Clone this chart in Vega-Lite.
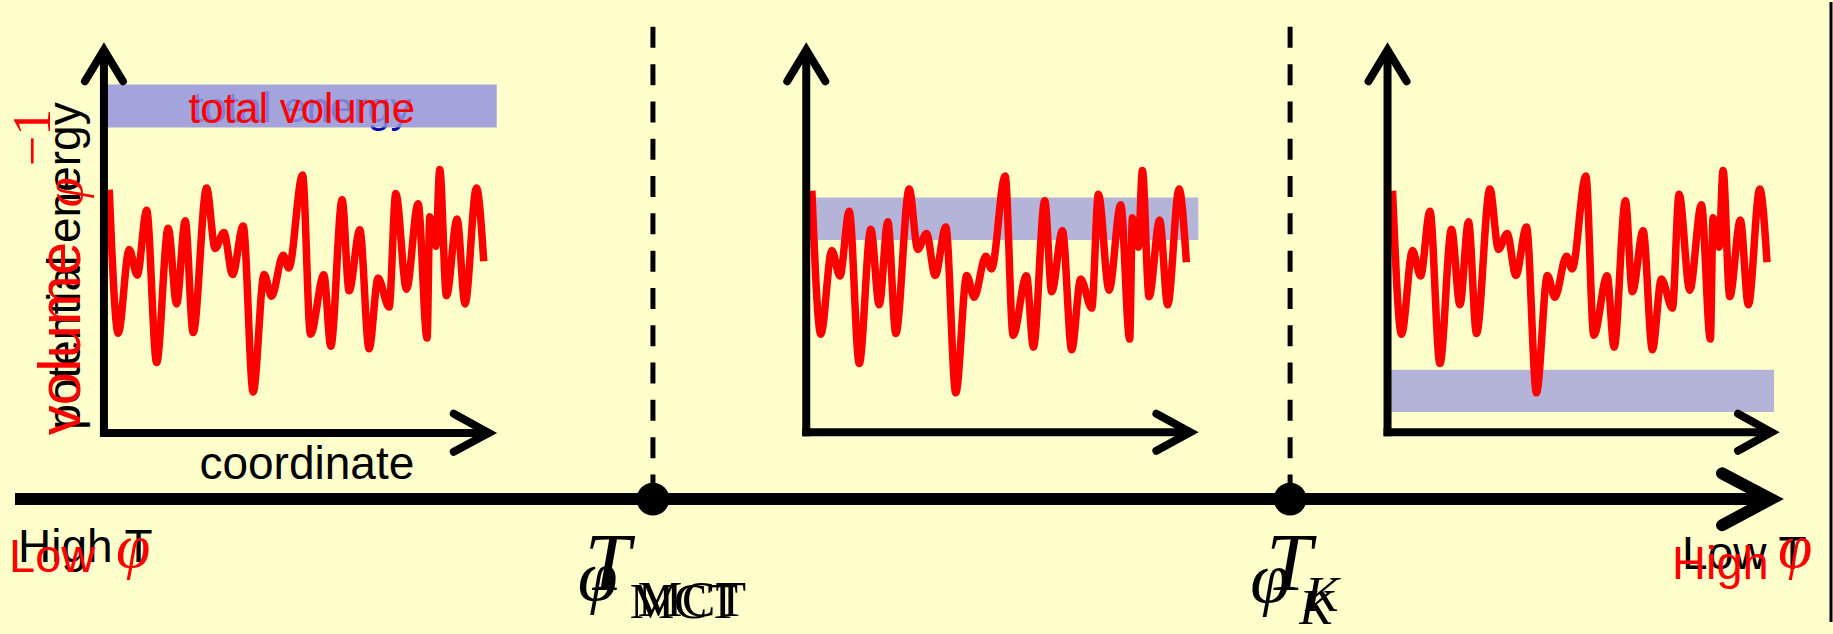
{
  "$schema": "https://vega.github.io/schema/vega-lite/v6.json",
  "width": 1833,
  "height": 634,
  "autosize": {"type": "fit", "contains": "padding"},
  "padding": 0,
  "background": "#FFFFCC",
  "config": {"view": {"stroke": null}},
  "datasets": {
    "curve": [
      {"panel": 1, "x": 109.3, "y": 192}, {"panel": 1, "x": 118.3, "y": 338.7}, {"panel": 1, "x": 129.3, "y": 253}, {"panel": 1, "x": 137.3, "y": 279.3}, {"panel": 1, "x": 146.7, "y": 213}, {"panel": 1, "x": 156.7, "y": 368.7}, {"panel": 1, "x": 168.3, "y": 231.3}, {"panel": 1, "x": 176.7, "y": 308.7}, {"panel": 1, "x": 185.3, "y": 223.7}, {"panel": 1, "x": 193.3, "y": 338}, {"panel": 1, "x": 206.7, "y": 190.3}, {"panel": 1, "x": 215.3, "y": 252}, {"panel": 1, "x": 224, "y": 235.7}, {"panel": 1, "x": 232.7, "y": 278.7}, {"panel": 1, "x": 243.3, "y": 229}, {"panel": 1, "x": 253.3, "y": 398.7}, {"panel": 1, "x": 264.3, "y": 278.7}, {"panel": 1, "x": 271.7, "y": 301}, {"panel": 1, "x": 283.3, "y": 259}, {"panel": 1, "x": 289, "y": 272}, {"panel": 1, "x": 302.7, "y": 177}, {"panel": 1, "x": 310.7, "y": 339.7}, {"panel": 1, "x": 324, "y": 279}, {"panel": 1, "x": 331, "y": 352}, {"panel": 1, "x": 342.3, "y": 202.3}, {"panel": 1, "x": 349.3, "y": 295.3}, {"panel": 1, "x": 360, "y": 233}, {"panel": 1, "x": 369.3, "y": 354.7}, {"panel": 1, "x": 378.3, "y": 282.3}, {"panel": 1, "x": 389.3, "y": 312}, {"panel": 1, "x": 396, "y": 195.7}, {"panel": 1, "x": 406.7, "y": 293.7}, {"panel": 1, "x": 418.3, "y": 206.3}, {"panel": 1, "x": 427.3, "y": 343.7}, {"panel": 1, "x": 430, "y": 219.7}, {"panel": 1, "x": 436, "y": 249.7}, {"panel": 1, "x": 440, "y": 171.3}, {"panel": 1, "x": 446.7, "y": 300.3}, {"panel": 1, "x": 457.3, "y": 222}, {"panel": 1, "x": 465.3, "y": 308.7}, {"panel": 1, "x": 476.7, "y": 190.3}, {"panel": 1, "x": 484, "y": 265},
      {"panel": 2, "x": 812.3, "y": 193}, {"panel": 2, "x": 821.3, "y": 339.7}, {"panel": 2, "x": 832.3, "y": 254}, {"panel": 2, "x": 840.3, "y": 280.3}, {"panel": 2, "x": 849.7, "y": 214}, {"panel": 2, "x": 859.7, "y": 369.7}, {"panel": 2, "x": 871.3, "y": 232.3}, {"panel": 2, "x": 879.7, "y": 309.7}, {"panel": 2, "x": 888.3, "y": 224.7}, {"panel": 2, "x": 896.3, "y": 339}, {"panel": 2, "x": 909.7, "y": 191.3}, {"panel": 2, "x": 918.3, "y": 253}, {"panel": 2, "x": 927, "y": 236.7}, {"panel": 2, "x": 935.7, "y": 279.7}, {"panel": 2, "x": 946.3, "y": 230}, {"panel": 2, "x": 956.3, "y": 399.7}, {"panel": 2, "x": 967.3, "y": 279.7}, {"panel": 2, "x": 974.7, "y": 302}, {"panel": 2, "x": 986.3, "y": 260}, {"panel": 2, "x": 992, "y": 273}, {"panel": 2, "x": 1005.7, "y": 178}, {"panel": 2, "x": 1013.7, "y": 340.7}, {"panel": 2, "x": 1027, "y": 280}, {"panel": 2, "x": 1034, "y": 353}, {"panel": 2, "x": 1045.3, "y": 203.3}, {"panel": 2, "x": 1052.3, "y": 296.3}, {"panel": 2, "x": 1063, "y": 234}, {"panel": 2, "x": 1072.3, "y": 355.7}, {"panel": 2, "x": 1081.3, "y": 283.3}, {"panel": 2, "x": 1092.3, "y": 313}, {"panel": 2, "x": 1099, "y": 196.7}, {"panel": 2, "x": 1109.7, "y": 294.7}, {"panel": 2, "x": 1121.3, "y": 207.3}, {"panel": 2, "x": 1130.3, "y": 344.7}, {"panel": 2, "x": 1133, "y": 220.7}, {"panel": 2, "x": 1139, "y": 250.7}, {"panel": 2, "x": 1143, "y": 172.3}, {"panel": 2, "x": 1149.7, "y": 301.3}, {"panel": 2, "x": 1160.3, "y": 223}, {"panel": 2, "x": 1168.3, "y": 309.7}, {"panel": 2, "x": 1179.7, "y": 191.3}, {"panel": 2, "x": 1187, "y": 266},
      {"panel": 3, "x": 1393.3, "y": 193}, {"panel": 3, "x": 1402.3, "y": 339.7}, {"panel": 3, "x": 1413.3, "y": 254}, {"panel": 3, "x": 1421.3, "y": 280.3}, {"panel": 3, "x": 1430.7, "y": 214}, {"panel": 3, "x": 1440.7, "y": 369.7}, {"panel": 3, "x": 1452.3, "y": 232.3}, {"panel": 3, "x": 1460.7, "y": 309.7}, {"panel": 3, "x": 1469.3, "y": 224.7}, {"panel": 3, "x": 1477.3, "y": 339}, {"panel": 3, "x": 1490.7, "y": 191.3}, {"panel": 3, "x": 1499.3, "y": 253}, {"panel": 3, "x": 1508, "y": 236.7}, {"panel": 3, "x": 1516.7, "y": 279.7}, {"panel": 3, "x": 1527.3, "y": 230}, {"panel": 3, "x": 1537.3, "y": 399.7}, {"panel": 3, "x": 1548.3, "y": 279.7}, {"panel": 3, "x": 1555.7, "y": 302}, {"panel": 3, "x": 1567.3, "y": 260}, {"panel": 3, "x": 1573, "y": 273}, {"panel": 3, "x": 1586.7, "y": 178}, {"panel": 3, "x": 1594.7, "y": 340.7}, {"panel": 3, "x": 1608, "y": 280}, {"panel": 3, "x": 1615, "y": 353}, {"panel": 3, "x": 1626.3, "y": 203.3}, {"panel": 3, "x": 1633.3, "y": 296.3}, {"panel": 3, "x": 1644, "y": 234}, {"panel": 3, "x": 1653.3, "y": 355.7}, {"panel": 3, "x": 1662.3, "y": 283.3}, {"panel": 3, "x": 1673.3, "y": 313}, {"panel": 3, "x": 1680, "y": 196.7}, {"panel": 3, "x": 1690.7, "y": 294.7}, {"panel": 3, "x": 1702.3, "y": 207.3}, {"panel": 3, "x": 1711.3, "y": 344.7}, {"panel": 3, "x": 1714, "y": 220.7}, {"panel": 3, "x": 1720, "y": 250.7}, {"panel": 3, "x": 1724, "y": 172.3}, {"panel": 3, "x": 1730.7, "y": 301.3}, {"panel": 3, "x": 1741.3, "y": 223}, {"panel": 3, "x": 1749.3, "y": 309.7}, {"panel": 3, "x": 1760.7, "y": 191.3}, {"panel": 3, "x": 1768, "y": 266}
    ],
    "bands": [
      {"panel": 1, "x": 104, "x2": 497, "y": 84.3, "y2": 128.3},
      {"panel": 2, "x": 810.7, "x2": 1199, "y": 200, "y2": 243.3},
      {"panel": 3, "x": 1392, "x2": 1775, "y": 376, "y2": 419.3}
    ],
    "shafts": [
      {"id": "v1", "x": 104, "y": 444.5, "x2": 104, "y2": 50},
      {"id": "h1", "x": 100, "y": 440.7, "x2": 488, "y2": 440.7},
      {"id": "v2", "x": 806.7, "y": 444, "x2": 806.7, "y2": 50},
      {"id": "h2", "x": 802.7, "y": 440, "x2": 1190, "y2": 440},
      {"id": "v3", "x": 1388.3, "y": 444, "x2": 1388.3, "y2": 50},
      {"id": "h3", "x": 1384.3, "y": 440, "x2": 1771, "y2": 440}
    ],
    "heads": [
      {"id": "v1", "o": 1, "x": 85, "y": 81}, {"id": "v1", "o": 2, "x": 104, "y": 49}, {"id": "v1", "o": 3, "x": 123, "y": 81},
      {"id": "h1", "o": 1, "x": 454, "y": 421}, {"id": "h1", "o": 2, "x": 489, "y": 440.7}, {"id": "h1", "o": 3, "x": 454, "y": 460},
      {"id": "v2", "o": 1, "x": 787.7, "y": 81}, {"id": "v2", "o": 2, "x": 806.7, "y": 49}, {"id": "v2", "o": 3, "x": 825.7, "y": 81},
      {"id": "h2", "o": 1, "x": 1157, "y": 421}, {"id": "h2", "o": 2, "x": 1191, "y": 440}, {"id": "h2", "o": 3, "x": 1157, "y": 459},
      {"id": "v3", "o": 1, "x": 1369.3, "y": 81}, {"id": "v3", "o": 2, "x": 1388.3, "y": 49}, {"id": "v3", "o": 3, "x": 1407.3, "y": 81},
      {"id": "h3", "o": 1, "x": 1739, "y": 421}, {"id": "h3", "o": 2, "x": 1772.5, "y": 440}, {"id": "h3", "o": 3, "x": 1739, "y": 459}
    ]
  },
  "encoding": {
    "x": {"field": "x", "type": "quantitative", "axis": null, "scale": {"domain": [0, 1833], "nice": false, "zero": false}},
    "y": {"field": "y", "type": "quantitative", "axis": null, "scale": {"domain": [0, 634], "nice": false, "zero": false, "reverse": true}}
  },
  "layer": [
    {
      "data": {"values": [{"label": "total energy", "x": 302, "y": 123}]},
      "mark": {"type": "text", "font": "Liberation Sans", "fontSize": 42, "color": "#0000AA", "align": "center", "baseline": "alphabetic"},
      "encoding": {"text": {"field": "label"}}
    },
    {
      "data": {"name": "bands"},
      "transform": [{"filter": "datum.panel == 1"}],
      "mark": {"type": "rect", "color": "#9494DF", "opacity": 0.85},
      "encoding": {"x2": {"field": "x2"}, "y2": {"field": "y2"}}
    },
    {
      "data": {"name": "bands"},
      "transform": [{"filter": "datum.panel != 1"}],
      "mark": {"type": "rect", "color": "#B4B4D8", "opacity": 1},
      "encoding": {"x2": {"field": "x2"}, "y2": {"field": "y2"}}
    },
    {
      "data": {"values": [
        {"id": "d1", "x": 653.3, "y": 504.6, "x2": 653.3, "y2": 13},
        {"id": "d2", "x": 1290.8, "y": 504.6, "x2": 1290.8, "y2": 13}
      ]},
      "mark": {"type": "rule", "color": "black", "strokeWidth": 5, "strokeDash": [21, 16.3]},
      "encoding": {"x2": {"field": "x2"}, "y2": {"field": "y2"}}
    },
    {
      "data": {"name": "curve"},
      "mark": {"type": "line", "color": "#FF0000", "strokeWidth": 7.5, "interpolate": "monotone", "strokeJoin": "round"},
      "encoding": {"detail": {"field": "panel"}}
    },
    {
      "data": {"name": "shafts"},
      "mark": {"type": "rule", "color": "black", "strokeWidth": 8, "strokeCap": "butt"},
      "encoding": {"x2": {"field": "x2"}, "y2": {"field": "y2"}}
    },
    {
      "data": {"name": "heads"},
      "mark": {"type": "line", "color": "black", "strokeWidth": 8, "strokeCap": "round", "strokeJoin": "miter"},
      "encoding": {"detail": {"field": "id"}, "order": {"field": "o", "type": "quantitative"}}
    },
    {
      "data": {"values": [{"id": "t", "x": 15, "y": 508.3, "x2": 1770, "y2": 508.3}]},
      "mark": {"type": "rule", "color": "black", "strokeWidth": 12, "strokeCap": "butt"},
      "encoding": {"x2": {"field": "x2"}, "y2": {"field": "y2"}}
    },
    {
      "data": {"values": [
        {"o": 1, "x": 1723, "y": 482}, {"o": 2, "x": 1772, "y": 508.3}, {"o": 3, "x": 1723, "y": 535}
      ]},
      "mark": {"type": "line", "color": "black", "strokeWidth": 12, "strokeCap": "round", "strokeJoin": "miter"},
      "encoding": {"order": {"field": "o", "type": "quantitative"}}
    },
    {
      "data": {"values": [{"name": "MCT", "x": 653.3, "y": 508.3}, {"name": "K", "x": 1290.8, "y": 508.3}]},
      "mark": {"type": "point", "filled": true, "color": "black", "opacity": 1, "size": 1075, "shape": "circle"}
    },
    {
      "data": {"values": [{"id": "border", "x": 1832, "y": 0, "x2": 1832, "y2": 634}]},
      "mark": {"type": "rule", "color": "black", "strokeWidth": 3},
      "encoding": {"x2": {"field": "x2"}, "y2": {"field": "y2"}}
    },
    {
      "data": {"values": [{"label": "total volume", "x": 302, "y": 123.3}]},
      "mark": {"type": "text", "font": "Liberation Sans", "fontSize": 42, "color": "#FF0000", "align": "center", "baseline": "alphabetic"},
      "encoding": {"text": {"field": "label"}}
    },
    {
      "data": {"values": [{"label": "coordinate", "x": 307, "y": 488}]},
      "mark": {"type": "text", "font": "Liberation Sans", "fontSize": 46, "color": "black", "align": "center", "baseline": "alphabetic"},
      "encoding": {"text": {"field": "label"}}
    },
    {
      "data": {"values": [{"label": "potential energy", "x": 80, "y": 270}]},
      "mark": {"type": "text", "font": "Liberation Sans", "fontSize": 46, "color": "black", "align": "center", "baseline": "alphabetic", "angle": 270},
      "encoding": {"text": {"field": "label"}}
    },
    {
      "data": {"values": [{"label": "volume", "x": 80, "y": 443}]},
      "mark": {"type": "text", "font": "Liberation Sans", "fontSize": 60, "color": "#FF0000", "align": "left", "baseline": "alphabetic", "angle": 270},
      "encoding": {"text": {"field": "label"}}
    },
    {
      "data": {"values": [{"label": "φ", "x": 82, "y": 210}]},
      "mark": {"type": "text", "font": "Liberation Serif", "fontStyle": "italic", "fontSize": 54, "color": "#FF0000", "align": "left", "baseline": "alphabetic", "angle": 270},
      "encoding": {"text": {"field": "label"}}
    },
    {
      "data": {"values": [{"label": "−1", "x": 50, "y": 168}]},
      "mark": {"type": "text", "font": "Liberation Serif", "fontSize": 54, "color": "#FF0000", "align": "left", "baseline": "alphabetic", "angle": 270},
      "encoding": {"text": {"field": "label"}}
    },
    {
      "data": {"values": [{"label": "High T", "x": 18, "y": 573}, {"label": "Low T", "x": 1683, "y": 580}]},
      "mark": {"type": "text", "font": "Liberation Sans", "fontSize": 46, "color": "black", "align": "left", "baseline": "alphabetic"},
      "encoding": {"text": {"field": "label"}}
    },
    {
      "data": {"values": [{"label": "Low", "x": 9, "y": 583}, {"label": "High", "x": 1673, "y": 590}]},
      "mark": {"type": "text", "font": "Liberation Sans", "fontSize": 47, "color": "#FF0000", "align": "left", "baseline": "alphabetic"},
      "encoding": {"text": {"field": "label"}}
    },
    {
      "data": {"values": [{"label": "φ", "x": 116, "y": 578}, {"label": "φ", "x": 1779, "y": 578}]},
      "mark": {"type": "text", "font": "Liberation Serif", "fontStyle": "italic", "fontSize": 62, "color": "#FF0000", "align": "left", "baseline": "alphabetic"},
      "encoding": {"text": {"field": "label"}}
    },
    {
      "data": {"values": [{"label": "T", "x": 585, "y": 601.7}, {"label": "T", "x": 1267, "y": 601.7}]},
      "mark": {"type": "text", "font": "Liberation Serif", "fontStyle": "italic", "fontSize": 82, "color": "black", "align": "left", "baseline": "alphabetic"},
      "encoding": {"text": {"field": "label"}}
    },
    {
      "data": {"values": [{"label": "φ", "x": 578, "y": 612}, {"label": "φ", "x": 1251, "y": 614}]},
      "mark": {"type": "text", "font": "Liberation Serif", "fontStyle": "italic", "fontSize": 72, "color": "black", "align": "left", "baseline": "alphabetic"},
      "encoding": {"text": {"field": "label"}}
    },
    {
      "data": {"values": [{"label": "MCT", "x": 630, "y": 630}, {"label": "MCT", "x": 638, "y": 628}]},
      "mark": {"type": "text", "font": "Liberation Serif", "fontSize": 50, "color": "black", "align": "left", "baseline": "alphabetic"},
      "encoding": {"text": {"field": "label"}}
    },
    {
      "data": {"values": [{"label": "K", "x": 1306, "y": 623}, {"label": "K", "x": 1300, "y": 636}]},
      "mark": {"type": "text", "font": "Liberation Serif", "fontStyle": "italic", "fontSize": 50, "color": "black", "align": "left", "baseline": "alphabetic"},
      "encoding": {"text": {"field": "label"}}
    }
  ]
}
